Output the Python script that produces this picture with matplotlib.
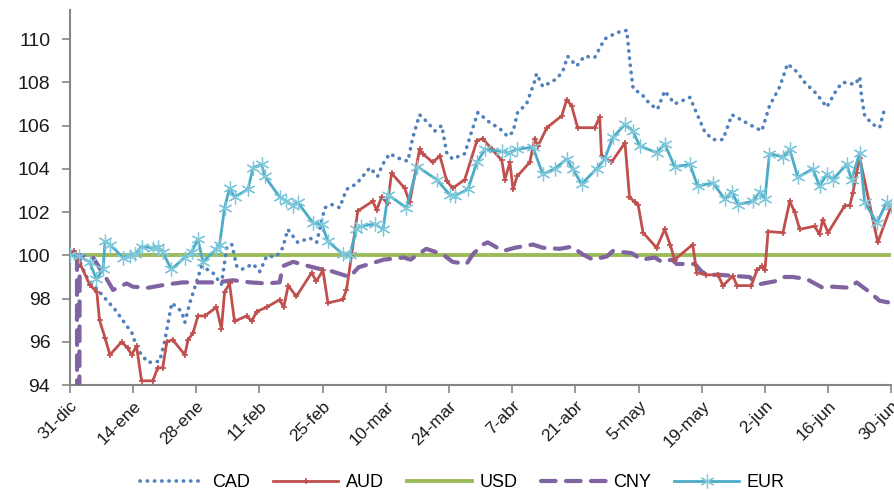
import matplotlib
matplotlib.use("Agg")
import matplotlib.pyplot as plt

# Day offsets from 31-dic and index values (base 100)
tick_days = [0, 14, 28, 42, 56, 70, 84, 98, 112, 126, 140, 154, 168, 182]
tick_labels = ["31-dic", "14-ene", "28-ene", "11-feb", "25-feb", "10-mar", "24-mar",
               "7-abr", "21-abr", "5-may", "19-may", "2-jun", "16-jun", "30-jun"]

cad_days = [0, 2, 3.8, 6.2, 10, 13.8, 15, 17.3, 19.9, 21, 22.6, 24.8, 25.5, 26.6, 29.2,
            31.7, 33.6, 34.8, 35.9, 37, 38.1, 40.6, 42.1, 43.6, 45.8, 47.2, 48.3, 49.4,
            50.5, 53.2, 54.7, 56.5, 58, 59.8, 61.3, 63.5, 66.5, 68.2, 69.3, 70.9, 72.7,
            74.9, 76, 77.5, 79, 80.9, 82.4, 83.5, 84.8, 87.5, 89.3, 90.4, 93, 95.3, 97,
            98.2, 99.2, 101.2, 103, 103.4, 104.8, 107.8, 109.2, 110.3, 112.3, 114, 116.3,
            118.5, 121.2, 123.4, 124.1, 124.8, 126.7, 128.5, 130.2, 131.8, 134, 137.4,
            138.5, 140.7, 142.5, 144.7, 146.7, 151, 153.3, 155, 157.3, 159, 161, 162.8,
            165.5, 167.7, 170, 171.3, 174, 175, 175.4, 176.1, 177.9, 179.4, 180.6]
cad_vals = [100.0, 99.8, 99.0, 98.4, 97.5, 96.4, 95.65, 95.05, 95.1, 96.0, 97.8, 97.4,
            96.9, 97.8, 99.5, 99.2, 98.65, 100.4, 100.5, 99.5, 99.35, 99.6, 99.25, 99.95,
            99.95, 100.35, 101.2, 100.9, 100.6, 100.8, 100.6, 102.2, 102.35, 102.2, 103.05,
            103.3, 104.05, 103.65, 104.2, 104.7, 104.5, 104.35, 105.45, 106.5, 106.2,
            105.75, 106.0, 104.75, 104.45, 104.7, 105.9, 106.6, 106.15, 105.85, 105.5,
            105.7, 106.6, 107.0, 108.05, 108.4, 107.8, 108.15, 108.5, 109.2, 108.75, 109.2,
            109.15, 110.0, 110.3, 110.4, 108.9, 107.7, 107.45, 107.0, 106.75, 107.6, 107.0,
            107.3, 106.75, 105.7, 105.35, 105.35, 106.5, 106.0, 105.75, 106.9, 107.8,
            108.85, 108.5, 108.0, 107.45, 106.85, 107.7, 108.0, 107.9, 108.25, 107.35,
            106.45, 106.05, 105.9, 106.85]

aud_days = [0, 1, 4.4, 6, 6.6, 7.8, 8.9, 11.5, 12.9, 13.7, 14.8, 15.9, 18.4, 19.5, 20.6,
            21.5, 22.8, 25.5, 26.2, 27.3, 28.4, 29.9, 32.5, 33.6, 34.3, 35.4, 36.5, 39.2,
            40.3, 41.4, 43.6, 46.5, 47.4, 48.4, 50.2, 53.6, 54.6, 56.1, 57.2, 60.5, 61.3,
            62.4, 63.8, 67.1, 68, 69.1, 70.4, 71.3, 74.2, 75.3, 77.5, 78.2, 80.4, 82,
            83.5, 84.8, 87.5, 90.2, 91.5, 93.5, 95.7, 96.4, 97.5, 98.2, 99.1, 101.9, 103,
            103.7, 105.7, 109, 110.1, 111.2, 112.5, 116.3, 117.4, 117.8, 120, 123, 124,
            125.2, 125.9, 127, 130, 131.8, 133, 134, 138, 138.9, 141, 143.6, 144.7, 146.9,
            147.8, 151, 152.2, 153.3, 154, 154.7, 158, 159.5, 160.6, 161.7, 165, 166.1,
            166.8, 168, 171.7, 172.8, 173.5, 174.3, 175, 179, 182]
aud_vals = [100.0, 100.2, 98.65, 98.3, 97.0, 96.2, 95.4, 96.0, 95.7, 95.4, 95.8, 94.2,
            94.2, 94.8, 94.8, 96.0, 96.1, 95.4, 96.1, 96.4, 97.2, 97.2, 97.6, 96.6, 98.3,
            98.7, 96.95, 97.2, 96.95, 97.4, 97.6, 97.95, 97.6, 98.6, 98.1, 99.2, 98.8,
            99.3, 97.8, 97.96, 98.4, 99.95, 102.05, 102.5, 102.1, 102.7, 102.4, 103.8,
            103.1, 102.45, 104.9, 104.7, 104.3, 104.6, 103.45, 103.1, 103.5, 105.3, 105.4,
            104.9, 104.4, 103.5, 104.3, 103.05, 103.65, 104.3, 105.4, 105.05, 105.9,
            106.45, 107.2, 106.9, 105.9, 105.9, 106.4, 104.6, 104.3, 105.2, 102.7, 102.45,
            102.35, 101.05, 100.35, 101.2, 100.5, 99.8, 100.5, 99.2, 99.1, 99.1, 98.6,
            99.05, 98.6, 98.6, 99.3, 99.5, 99.3, 101.1, 101.05, 102.5, 102.0, 101.2,
            101.35, 100.97, 101.65, 101.05, 102.3, 102.3, 102.9, 103.8, 104.5, 100.6, 102.3]

usd_days = [0, 182]
usd_vals = [100.0, 100.0]

cny_days = [1.6, 1.8, 2.2, 5, 8.2, 9.6, 12.6, 14, 17.3, 21.4, 25, 28.8, 32.5, 36.2, 40,
            43.6, 46.5, 47.2, 49.5, 52, 55.8, 57.5, 62, 64, 68, 69.5, 74, 75.5, 77.5, 79,
            82.6, 84.8, 87.9, 89.3, 91.5, 92.6, 96, 98.6, 102.6, 104.8, 108.5, 111.2,
            113.6, 115.9, 119, 120.3, 124.5, 126.7, 129.6, 131.1, 133.4, 134.5, 138.5, 140,
            141.3, 144, 146.9, 150.6, 152.4, 156.2, 158, 160.2, 163.3, 166.8, 169, 172.8,
            174.3, 177.2, 179.4, 182]
cny_vals = [100.0, 60.0, 100.0, 99.95, 98.9, 98.4, 98.7, 98.55, 98.5, 98.65, 98.75,
            98.75, 98.75, 98.85, 98.75, 98.7, 98.75, 99.5, 99.7, 99.55, 99.35, 99.3, 99.0,
            99.45, 99.7, 99.8, 99.9, 99.8, 100.1, 100.3, 100.05, 99.7, 99.6, 100.05, 100.5,
            100.6, 100.2, 100.35, 100.5, 100.35, 100.3, 100.4, 100.05, 99.8, 99.95, 100.2,
            100.1, 99.8, 99.9, 99.7, 99.8, 99.6, 99.6, 99.25, 99.1, 99.1, 99.05, 99.0,
            98.65, 98.8, 99.0, 99.0, 98.9, 98.5, 98.55, 98.5, 98.75, 98.3, 97.9, 97.8]

eur_days = [0, 2, 4.4, 5.9, 7.4, 7.8, 8.9, 11.8, 13.3, 14.4, 15.9, 18.4, 19.5, 20.6,
            22.5, 25.5, 27, 28.4, 29.5, 32.5, 33.2, 34.3, 35.4, 36.5, 39.5, 40.6, 42.5,
            43.2, 46.5, 48, 49.4, 50.5, 53.9, 55.8, 57.2, 60.5, 62, 63.5, 64.6, 67.6, 69.4,
            70.5, 74.6, 77, 81.3, 84.2, 85.3, 88.2, 90.2, 92, 95.7, 97.5, 99, 102.6, 104.8,
            107.4, 110.1, 111.4, 113.4, 116.7, 118.5, 120.3, 123, 124.7, 126.3, 130, 131.8,
            134, 137.4, 139.1, 142.5, 145.1, 146.7, 148, 151.3, 152.9, 154, 155, 158,
            159.5, 161.3, 164.6, 166.1, 167.7, 169, 172.1, 173.2, 175, 176.1, 178.8, 181, 182]
eur_vals = [100.0, 99.95, 99.7, 98.9, 99.35, 100.65, 100.5, 99.9, 99.95, 100.05, 100.4,
            100.35, 100.4, 100.15, 99.35, 99.9, 100.15, 100.75, 99.7, 100.3, 100.5, 102.2,
            103.1, 102.7, 103.05, 104.05, 104.2, 103.65, 102.7, 102.5, 102.3, 102.45, 101.5,
            101.45, 100.65, 100.05, 100.0, 101.2, 101.35, 101.45, 101.2, 102.8, 102.2,
            104.1, 103.5, 102.8, 102.75, 103.05, 104.3, 104.9, 104.8, 104.75, 104.9, 105.0,
            103.75, 104.0, 104.45, 104.0, 103.3, 104.0, 104.45, 105.45, 106.05, 105.75,
            105.05, 104.75, 105.15, 104.1, 104.2, 103.2, 103.35, 102.6, 102.95, 102.35,
            102.5, 102.95, 102.6, 104.7, 104.55, 104.9, 103.6, 104.0, 103.2, 103.75, 103.5,
            104.2, 103.5, 104.75, 102.45, 101.5, 102.45, 102.3]

plt.rcParams["font.family"] = ["Liberation Sans", "DejaVu Sans"]

fig = plt.figure(figsize=(8.94, 4.9), dpi=100)
ax = fig.add_axes([0.078, 0.214, 0.919, 0.766])

ax.plot(usd_days, usd_vals, color="#9BBB59", lw=2.8, label="USD", zorder=2)
ax.plot(cad_days, cad_vals, color="#4F81BD", lw=2.6, ls=(0, (0.1, 1.9)),
        dash_capstyle="round", label="CAD", zorder=3)
ax.plot(aud_days, aud_vals, color="#C0504D", lw=2.0, marker="+", ms=5, mew=1.2,
        label="AUD", zorder=4)
ax.plot(cny_days, cny_vals, color="#8064A2", lw=3.0, ls=(0, (3.5, 2.5)),
        dash_capstyle="round", label="CNY", zorder=3)
ax.plot(eur_days, eur_vals, color="#4BACC6", lw=2.0, marker=(6, 2, 0), ms=10,
        mew=0.9, mec="#7FC8DC", label="EUR", zorder=5)

ax.set_xlim(0, 182)
ax.set_ylim(94, 111.35)
ax.set_yticks(range(94, 111, 2))
ax.set_xticks(tick_days)
ax.set_xticklabels(tick_labels, rotation=45, ha="right", rotation_mode="anchor")
ax.tick_params(axis="both", labelsize=12.5, colors="#868686", labelcolor="#1a1a1a",
               length=6, width=1.2, direction="out")
ax.tick_params(axis="y", labelsize=14, pad=8)

for side in ["top", "right"]:
    ax.spines[side].set_visible(False)
for side in ["left", "bottom"]:
    ax.spines[side].set_color("#868686")
    ax.spines[side].set_linewidth(1.5)

handles, labels = ax.get_legend_handles_labels()
order = ["CAD", "AUD", "USD", "CNY", "EUR"]
h = [handles[labels.index(k)] for k in order]
fig.legend(h, order, loc="lower center", bbox_to_anchor=(0.517, -0.035), ncol=5,
           frameon=False, fontsize=13, handlelength=3.6, columnspacing=1.3,
           handletextpad=0.4)

fig.savefig("out.png", dpi=100)
